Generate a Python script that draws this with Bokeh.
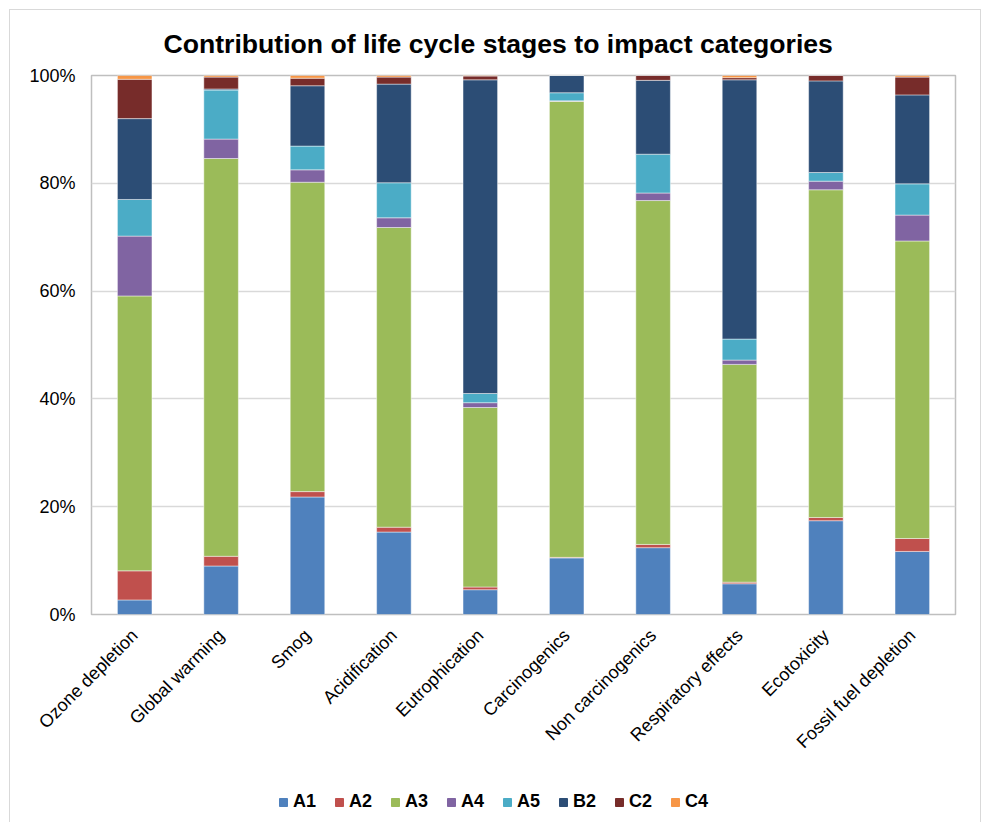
from bokeh.plotting import figure
from bokeh.layouts import column
from bokeh.models import (ColumnDataSource, FactorRange, Range1d, Legend, LegendItem,
                          PrintfTickFormatter, FixedTicker)
from bokeh.embed import file_html
from bokeh.resources import INLINE
from math import pi

categories = ["Ozone depletion", "Global warming", "Smog", "Acidification", "Eutrophication",
              "Carcinogenics", "Non carcinogenics", "Respiratory effects", "Ecotoxicity",
              "Fossil fuel depletion"]
stages = ["A1", "A2", "A3", "A4", "A5", "B2", "C2", "C4"]

A1 = [2.7, 9.0, 21.8, 15.3, 4.6, 10.5, 12.4, 5.7, 17.4, 11.7]
A2 = [5.4, 1.8, 1.0, 0.9, 0.5, 0.1, 0.6, 0.3, 0.6, 2.4]
A3 = [51.0, 73.8, 57.4, 55.6, 33.3, 84.6, 63.8, 40.4, 60.8, 55.2]
A4 = [11.1, 3.6, 2.3, 1.8, 0.9, 0.1, 1.4, 0.8, 1.6, 4.8]
A5 = [6.8, 9.1, 4.4, 6.5, 1.7, 1.5, 7.2, 3.9, 1.6, 5.8]
B2 = [15.0, 0.2, 11.2, 18.3, 58.2, 3.2, 13.7, 48.1, 17.0, 16.5]
C2 = [7.3, 2.2, 1.4, 1.3, 0.7, 0.0, 0.9, 0.4, 1.0, 3.3]
C4 = [0.7, 0.3, 0.5, 0.3, 0.1, 0.0, 0.0, 0.4, 0.0, 0.3]

y_ticks = [0, 20, 40, 60, 80, 100]

colors = ["#4F81BD", "#C0504D", "#9BBB59", "#8064A2", "#4BACC6", "#2C4D75", "#772C2A", "#F79646"]

source = ColumnDataSource(dict(cat=categories, A1=A1, A2=A2, A3=A3, A4=A4, A5=A5, B2=B2, C2=C2, C4=C4))

# ---- main chart ----
p = figure(x_range=FactorRange(*categories, range_padding=0), y_range=Range1d(0, 100),
           width=970, height=760, output_backend="svg", toolbar_location=None,
           min_border_left=81, min_border_right=25, min_border_top=64, min_border_bottom=156)

renderers = p.vbar_stack(stages, x="cat", width=0.4, color=colors, source=source,
                         line_color="white", line_alpha=0.45, line_width=1)

p.title.text = "Contribution of life cycle stages to impact categories"
p.title.text_font = "Liberation Sans"
p.title.text_font_size = "26.6px"
p.title.text_font_style = "bold"
p.title.text_color = "black"
p.title.align = "left"
p.title.offset = 72
p.title.standoff = 33

p.outline_line_color = "#BFBFBF"
p.outline_line_width = 1.5

p.xgrid.grid_line_color = None
p.ygrid.grid_line_color = "#D9D9D9"
p.ygrid.grid_line_width = 1.5

p.yaxis.ticker = FixedTicker(ticks=y_ticks)
p.yaxis.formatter = PrintfTickFormatter(format="%d%%")
for ax in (p.xaxis, p.yaxis):
    ax.axis_line_color = None
    ax.major_tick_line_color = None
    ax.minor_tick_line_color = None
    ax.major_tick_out = 0
    ax.major_tick_in = 0
    ax.major_label_text_font = "Liberation Sans"
    ax.major_label_text_color = "black"

p.yaxis.major_label_text_font_size = "18px"
p.yaxis.major_label_standoff = 16
p.xaxis.major_label_text_font_size = "18px"
p.xaxis.major_label_orientation = pi / 4
p.xaxis.major_label_standoff = 18

# ---- legend strip below the chart (same stacked data, drawn outside its visible y range) ----
lf = figure(width=970, height=52, output_backend="svg", toolbar_location=None,
            x_range=p.x_range, y_range=Range1d(200, 300),
            x_axis_location=None, y_axis_location=None,
            min_border_left=0, min_border_right=0, min_border_top=0, min_border_bottom=0)
lf.outline_line_color = None
lf.xgrid.grid_line_color = None
lf.ygrid.grid_line_color = None
leg_renderers = lf.vbar_stack(stages, x="cat", width=0.4, color=colors, source=source)

legend = Legend(items=[LegendItem(label=s, renderers=[r]) for s, r in zip(stages, leg_renderers)],
                orientation="horizontal", location=(187, 10),
                glyph_width=10, glyph_height=10, label_standoff=5, spacing=18,
                padding=0, margin=0, border_line_color=None, background_fill_alpha=0,
                label_text_font="Liberation Sans", label_text_font_size="18px",
                label_text_font_style="bold", label_text_color="black")
lf.add_layout(legend, "center")

layout = column(p, lf, spacing=0,
                styles={"margin-left": "9px", "margin-top": "9px",
                        "border-left": "1px solid #d9d9d9", "border-top": "1px solid #d9d9d9",
                        "border-right": "1px solid #d9d9d9"})

open("out.html", "w").write(file_html(layout, INLINE))
